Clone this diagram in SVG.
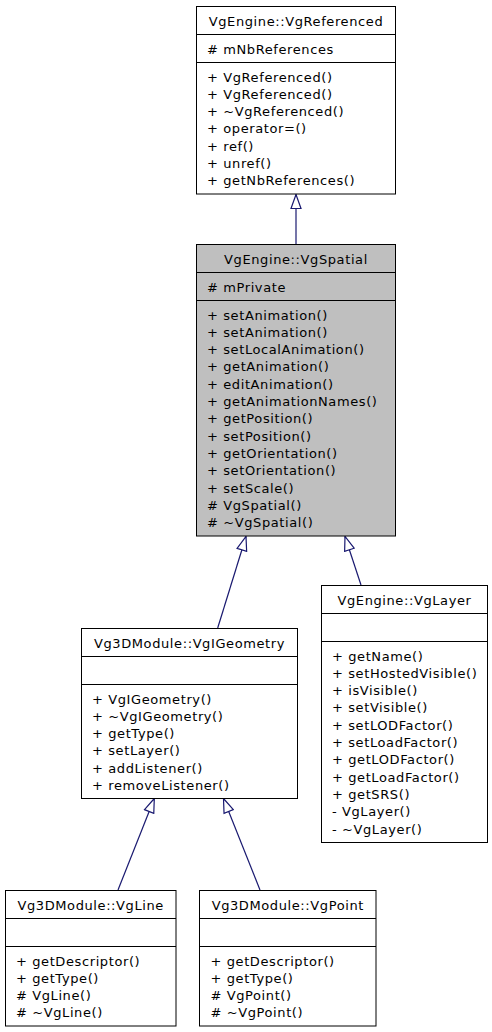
<svg xmlns="http://www.w3.org/2000/svg" width="492" height="1032" viewBox="0 0 492 1032">
<style>
rect.box{fill:#ffffff;stroke:#000000;stroke-width:1}
rect.hl{fill:#bfbfbf}
line.sep{stroke:#000000;stroke-width:1}
text{font-family:"DejaVu Sans","Bitstream Vera Sans",sans-serif;font-size:13px;letter-spacing:0.6px;fill:#000000}
text.t{text-anchor:middle}
.edge{fill:none;stroke:#191970;stroke-width:1.2}
</style>
<defs>
<marker id="inh" markerUnits="userSpaceOnUse" viewBox="-1 -6 16 12" markerWidth="16" markerHeight="12" refX="14" refY="0" orient="auto">
<path d="M0,-5 L14,0 L0,5 Z" fill="#ffffff" stroke="#191970" stroke-width="1.2"/>
</marker>
</defs>
<rect width="492" height="1032" fill="#ffffff"/>

<g id="connectors">
<line class="edge" x1="296" y1="244" x2="296" y2="194.5" marker-end="url(#inh)"/>
<line class="edge" x1="217.7" y1="628" x2="246" y2="536.5" marker-end="url(#inh)"/>
<line class="edge" x1="361" y1="585" x2="345" y2="536.5" marker-end="url(#inh)"/>
<line class="edge" x1="118" y1="890" x2="154.3" y2="798.5" marker-end="url(#inh)"/>
<line class="edge" x1="260" y1="890" x2="223.5" y2="798.5" marker-end="url(#inh)"/>
</g>

<g id="VgReferenced">
<rect class="box" x="196.5" y="6.5" width="199" height="187.5"/>
<line class="sep" x1="196.5" y1="34.5" x2="395.5" y2="34.5"/>
<line class="sep" x1="196.5" y1="62.5" x2="395.5" y2="62.5"/>
<text class="t" x="296" y="26">VgEngine::VgReferenced</text>
<text x="207" y="54">#&#160;mNbReferences</text>
<text x="207" y="81.5">+ VgReferenced()</text>
<text x="207" y="98.8">+ VgReferenced()</text>
<text x="207" y="116.1">+ ~VgReferenced()</text>
<text x="207" y="133.4">+ operator=()</text>
<text x="207" y="150.7">+ ref()</text>
<text x="207" y="168">+ unref()</text>
<text x="207" y="185.3">+ getNbReferences()</text>
</g>

<g id="VgSpatial">
<rect class="box hl" x="196.5" y="244.5" width="199" height="291.5"/>
<line class="sep" x1="196.5" y1="272.5" x2="395.5" y2="272.5"/>
<line class="sep" x1="196.5" y1="300.5" x2="395.5" y2="300.5"/>
<text class="t" x="296" y="264">VgEngine::VgSpatial</text>
<text x="207" y="291.5">#&#160;mPrivate</text>
<text x="207" y="319.5">+ setAnimation()</text>
<text x="207" y="336.8">+ setAnimation()</text>
<text x="207" y="354.1">+ setLocalAnimation()</text>
<text x="207" y="371.4">+ getAnimation()</text>
<text x="207" y="388.7">+ editAnimation()</text>
<text x="207" y="406">+ getAnimationNames()</text>
<text x="207" y="423.3">+ getPosition()</text>
<text x="207" y="440.6">+ setPosition()</text>
<text x="207" y="457.9">+ getOrientation()</text>
<text x="207" y="475.2">+ setOrientation()</text>
<text x="207" y="492.5">+ setScale()</text>
<text x="207" y="509.8">#&#160;VgSpatial()</text>
<text x="207" y="527.1">#&#160;~VgSpatial()</text>
</g>

<g id="VgIGeometry">
<rect class="box" x="81.5" y="628.5" width="216" height="170"/>
<line class="sep" x1="81.5" y1="656.5" x2="297.5" y2="656.5"/>
<line class="sep" x1="81.5" y1="684.5" x2="297.5" y2="684.5"/>
<text class="t" x="189.5" y="648">Vg3DModule::VgIGeometry</text>
<text x="92" y="703.5">+ VgIGeometry()</text>
<text x="92" y="720.8">+ ~VgIGeometry()</text>
<text x="92" y="738.1">+ getType()</text>
<text x="92" y="755.4">+ setLayer()</text>
<text x="92" y="772.7">+ addListener()</text>
<text x="92" y="790">+ removeListener()</text>
</g>

<g id="VgLayer">
<rect class="box" x="321.5" y="585.5" width="166" height="257"/>
<line class="sep" x1="321.5" y1="613.5" x2="487.5" y2="613.5"/>
<line class="sep" x1="321.5" y1="641.5" x2="487.5" y2="641.5"/>
<text class="t" x="404.5" y="605">VgEngine::VgLayer</text>
<text x="332" y="660.5">+ getName()</text>
<text x="332" y="677.8">+ setHostedVisible()</text>
<text x="332" y="695.1">+ isVisible()</text>
<text x="332" y="712.4">+ setVisible()</text>
<text x="332" y="729.7">+ setLODFactor()</text>
<text x="332" y="747">+ setLoadFactor()</text>
<text x="332" y="764.3">+ getLODFactor()</text>
<text x="332" y="781.6">+ getLoadFactor()</text>
<text x="332" y="798.9">+ getSRS()</text>
<text x="332" y="816.2">- VgLayer()</text>
<text x="332" y="833.5">- ~VgLayer()</text>
</g>

<g id="VgLine">
<rect class="box" x="5.5" y="890.5" width="170.5" height="135.5"/>
<line class="sep" x1="5.5" y1="918.5" x2="176" y2="918.5"/>
<line class="sep" x1="5.5" y1="946.5" x2="176" y2="946.5"/>
<text class="t" x="90.7" y="910">Vg3DModule::VgLine</text>
<text x="16" y="965.5">+ getDescriptor()</text>
<text x="16" y="982.8">+ getType()</text>
<text x="16" y="1000.1">#&#160;VgLine()</text>
<text x="16" y="1017.4">#&#160;~VgLine()</text>
</g>

<g id="VgPoint">
<rect class="box" x="199.5" y="890.5" width="176.5" height="135.5"/>
<line class="sep" x1="199.5" y1="918.5" x2="376" y2="918.5"/>
<line class="sep" x1="199.5" y1="946.5" x2="376" y2="946.5"/>
<text class="t" x="287.8" y="910">Vg3DModule::VgPoint</text>
<text x="210.5" y="965.5">+ getDescriptor()</text>
<text x="210.5" y="982.8">+ getType()</text>
<text x="210.5" y="1000.1">#&#160;VgPoint()</text>
<text x="210.5" y="1017.4">#&#160;~VgPoint()</text>
</g>
</svg>
